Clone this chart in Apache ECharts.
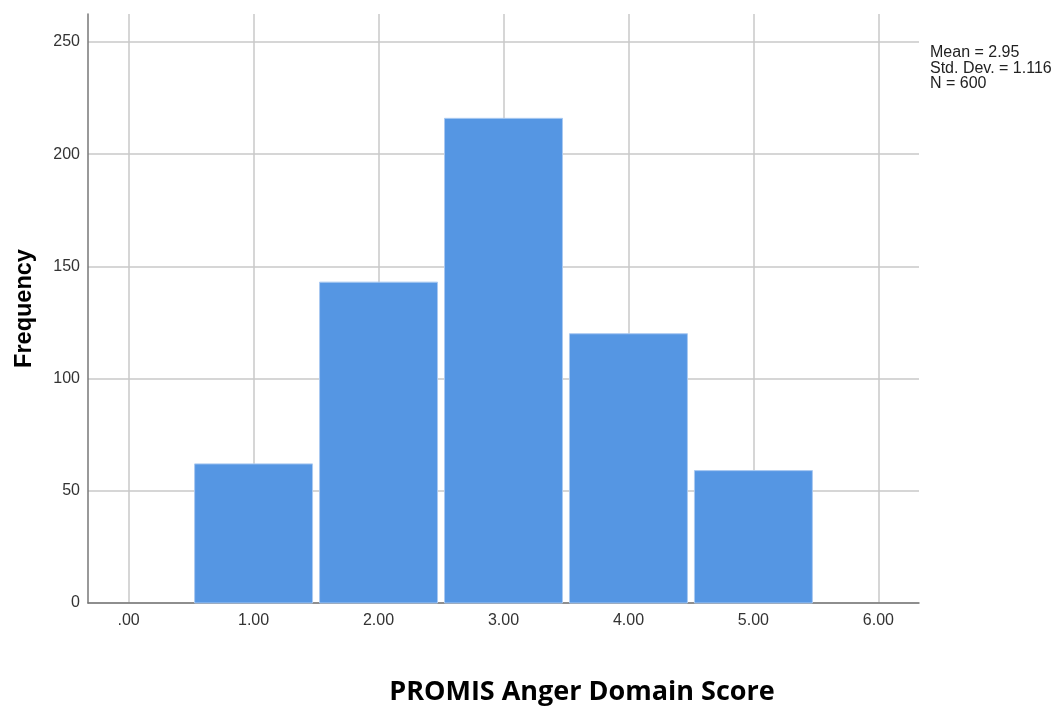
<!DOCTYPE html>
<html>
<head>
<meta charset="utf-8">
<script src="https://cdn.jsdelivr.net/npm/echarts@6/dist/echarts.min.js"></script>
<style>
html,body{margin:0;padding:0;background:#fff;}
#chart{width:1055px;height:707px;}
</style>
</head>
<body>
<div id="chart"></div>
<script>
// Data
const binCenters = [1, 2, 3, 4, 5];
const frequencies = [62, 143, 216, 120, 59];
const xTicks = [0, 1, 2, 3, 4, 5, 6];
const yTicks = [0, 50, 100, 150, 200, 250];
const statsLines = ['Mean = 2.95', 'Std. Dev. = 1.116', 'N = 600'];
const xTitle = 'PROMIS Anger Domain Score';
const yTitle = 'Frequency';

const barData = binCenters.map((c, i) => [c - 0.5, c + 0.5, frequencies[i]]);

const chart = echarts.init(document.getElementById('chart'), null, {renderer: 'canvas'});
const fontFam = '"Liberation Sans", Arial, sans-serif';

chart.setOption({
  animation: false,
  backgroundColor: '#fff',
  grid: {left: 88, top: 14, right: 136, bottom: 104, containLabel: false, outerBoundsMode: 'none'},
  xAxis: {
    type: 'value',
    min: -0.325,
    max: 6.325,
    axisLine: {show: true, onZero: false, lineStyle: {color: '#777', width: 1.5}},
    axisTick: {show: false, customValues: xTicks},
    axisLabel: {
      customValues: xTicks,
      color: '#333',
      fontFamily: fontFam,
      fontSize: 16,
      margin: 10,
      formatter: v => (v === 0 ? '.00' : v.toFixed(2))
    },
    splitLine: {show: true, lineStyle: {color: '#c8c8c8', width: 1.5}}
  },
  yAxis: {
    type: 'value',
    min: 0,
    max: 262.5,
    name: yTitle,
    nameLocation: 'middle',
    nameGap: 51,
    nameRotate: 90,
    nameTextStyle: {fontFamily: fontFam, fontSize: 23.5, fontWeight: 'bold', color: '#000'},
    axisLine: {show: true, onZero: false, lineStyle: {color: '#777', width: 1.5}},
    axisTick: {show: false, customValues: yTicks},
    axisLabel: {customValues: yTicks, color: '#333', fontFamily: fontFam, fontSize: 16, margin: 8},
    splitLine: {show: true, lineStyle: {color: '#c8c8c8', width: 1.5}}
  },
  series: [{
    type: 'custom',
    data: barData,
    encode: {x: [0, 1], y: 2},
    renderItem: function (params, api) {
      const p0 = api.coord([api.value(0), 0]);
      const p1 = api.coord([api.value(1), api.value(2)]);
      const inset = 3.5;
      return {
        type: 'rect',
        shape: {x: p0[0] + inset, y: p1[1], width: p1[0] - p0[0] - 2 * inset, height: p0[1] - p1[1]},
        style: {fill: '#5596e3', stroke: '#a9c9f1', lineWidth: 1}
      };
    }
  }],
  graphic: [
    {
      type: 'text',
      left: 930,
      top: 45,
      style: {
        text: statsLines.join('\n'),
        font: '16px ' + fontFam,
        fill: '#222',
        lineHeight: 15.5
      }
    },
    {
      type: 'text',
      x: 582,
      y: 706,
      style: {
        text: xTitle,
        font: 'bold 27px "Open Sans", Lato, sans-serif',
        fill: '#000',
        align: 'center',
        verticalAlign: 'bottom'
      }
    }
  ]
});
</script>
</body>
</html>
